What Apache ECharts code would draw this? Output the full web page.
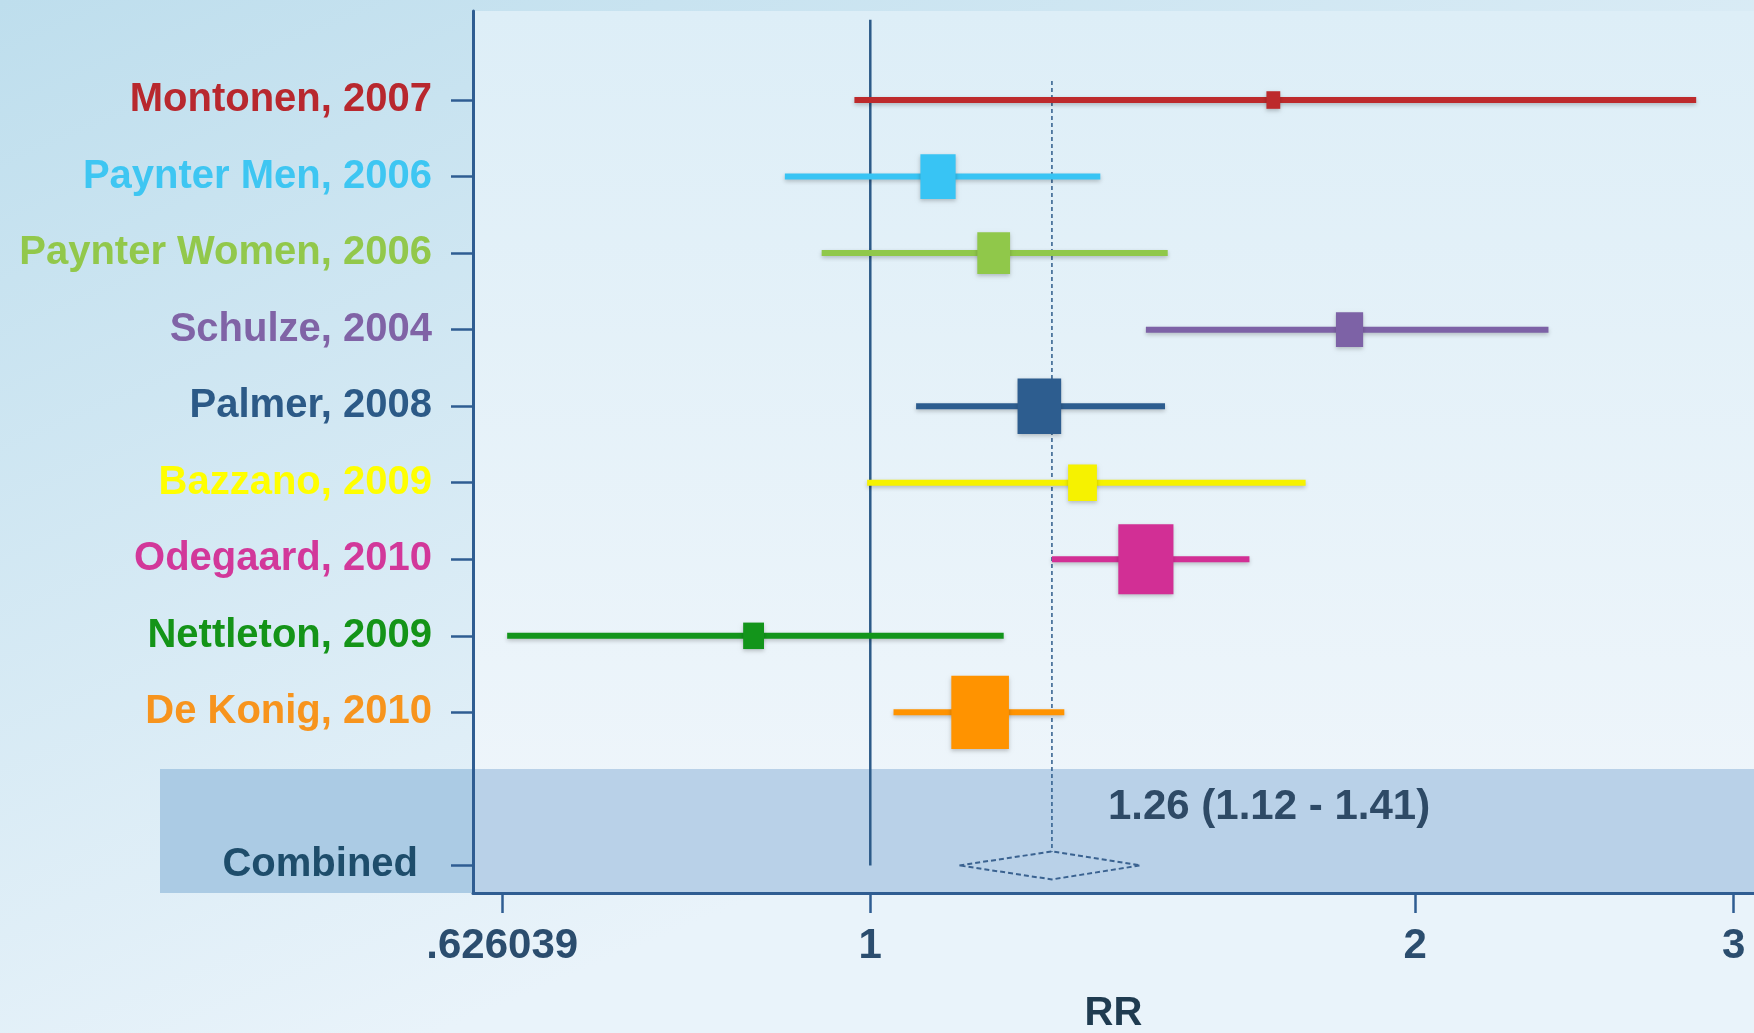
<!DOCTYPE html>
<html>
<head>
<meta charset="utf-8">
<title>Forest plot – RR</title>
<script src="https://cdn.jsdelivr.net/npm/echarts@6/dist/echarts.min.js"></script>
<style>
  html, body { margin: 0; padding: 0; }
  #chart { width: 1754px; height: 1033px; }
</style>
</head>
<body>
<div id="chart"></div>
<script>
// ---- study data (relative risks with 95% CI, pooled weights in %) ----
const studies = [
  'Montonen, 2007', 'Paynter Men, 2006', 'Paynter Women, 2006', 'Schulze, 2004',
  'Palmer, 2008', 'Bazzano, 2009', 'Odegaard, 2010', 'Nettleton, 2009', 'De Konig, 2010'
];
const rrEstimate = [1.67, 1.09, 1.17, 1.84, 1.24, 1.31, 1.42, 0.862, 1.15];
const rrLower    = [0.98, 0.897, 0.94, 1.42, 1.06, 0.996, 1.26, 0.63, 1.03];
const rrUpper    = [2.86, 1.34, 1.46, 2.37, 1.455, 1.74, 1.62, 1.185, 1.28];
const weights    = [1.5, 9.7, 8.4, 5.8, 14.9, 6.5, 23.8, 3.4, 26.0];

const combinedName = 'Combined';
const combinedEstimate = 1.26;
const combinedLower = 1.12;
const combinedUpper = 1.41;

const xTickValues = [0.626039, 1, 2, 3];
const xTickLabels = ['.626039', '1', '2', '3'];
const axisTitle = 'RR';

// ---- styling ----
const studyColors = ['#bd2a2c', '#38c4f4', '#90c84a', '#7d62a6', '#2d5d8f',
                     '#f6f200', '#d22f95', '#13951b', '#ff9300'];
const labelColors = ['#b8282e', '#3ec6f2', '#92c84b', '#8063a6', '#2c5a87',
                     '#ffff00', '#d2389a', '#149418', '#f7941d'];
const combinedColor = '#1e4d6b';
const axisColor = '#2f5d92';
const FONT = '"Liberation Sans", Arial, sans-serif';

// row layout: one row per study, a blank row, then the pooled estimate
const studyRows = studies.map((_, i) => i + 1);
const combinedRow = studies.length + 2;
const allRows = studyRows.concat([combinedRow]);
const allLabels = studies.concat([combinedName]);
const allLabelColors = labelColors.concat([combinedColor]);

// the RR axis is logarithmic: values are placed on a natural-log value axis
const ln = Math.log;

const rich = {};
allLabels.forEach((_, i) => {
  rich['r' + i] = {
    color: allLabelColors[i], fontSize: 40, fontWeight: 'bold', fontFamily: FONT,
    padding: i === allLabels.length - 1 ? [0, 14, 0, 0] : 0
  };
});

const studyData = studies.map((s, i) =>
  [ln(rrLower[i]), ln(rrUpper[i]), ln(rrEstimate[i]), studyRows[i], weights[i]]);

const shadow = { shadowColor: 'rgba(0,0,0,0.22)', shadowBlur: 4, shadowOffsetY: 2 };

const chart = echarts.init(document.getElementById('chart'));
chart.setOption({
  animation: false,
  backgroundColor: new echarts.graphic.LinearGradient(0, 0, 0.25, 1, [
    { offset: 0, color: '#bedeed' },
    { offset: 1, color: '#e9f3fa' }
  ]),
  grid: {
    left: 473, right: 0, top: 11, bottom: 140,
    outerBoundsMode: 'none', containLabel: false,
    show: true, borderWidth: 0,
    backgroundColor: new echarts.graphic.LinearGradient(0, 0, 0, 1, [
      { offset: 0, color: '#ddeef7' },
      { offset: 1, color: '#f0f6fb' }
    ])
  },
  graphic: [
    { type: 'rect', z: 1, shape: { x: 160, y: 769, width: 313, height: 124 },
      style: { fill: '#abcbe4' } },
    { type: 'rect', z: 1, shape: { x: 473, y: 769, width: 1281, height: 124 },
      style: { fill: '#b9d1e8' } }
  ],
  xAxis: {
    type: 'value', z: 5,
    min: -0.5055, max: 1.1244,
    splitLine: { show: false },
    axisLine: { show: true, onZero: false, lineStyle: { color: axisColor, width: 3 } },
    axisTick: { show: true, length: 20, customValues: xTickValues.map(ln),
                lineStyle: { color: axisColor, width: 2.5 } },
    axisLabel: {
      customValues: xTickValues.map(ln),
      margin: 32,
      formatter: v => {
        let best = 0;
        xTickValues.forEach((t, i) => {
          if (Math.abs(ln(t) - v) < Math.abs(ln(xTickValues[best]) - v)) best = i;
        });
        return xTickLabels[best];
      },
      color: '#2b4d6e', fontSize: 42, fontWeight: 'bold', fontFamily: FONT
    },
    name: axisTitle, nameLocation: 'middle', nameGap: 101,
    nameTextStyle: { color: '#1f3b50', fontSize: 40, fontWeight: 'bold', fontFamily: FONT }
  },
  yAxis: {
    type: 'value', z: 5, inverse: true,
    min: -0.163, max: 11.36,
    splitLine: { show: false },
    axisLine: { show: true, onZero: false, lineStyle: { color: axisColor, width: 3 } },
    axisTick: { show: true, length: 22, customValues: allRows,
                lineStyle: { color: axisColor, width: 2.5 } },
    axisLabel: {
      customValues: allRows,
      margin: 41,
      formatter: v => {
        const i = allRows.indexOf(v);
        return i < 0 ? '' : '{r' + i + '|' + allLabels[i] + '}';
      },
      rich: rich
    }
  },
  series: [
    {
      // no-effect reference line at RR = 1
      type: 'line', z: 2, silent: true, symbol: 'none',
      data: [[ln(1), -0.05], [ln(1), combinedRow]],
      lineStyle: { color: '#2c5a88', width: 2.5 }
    },
    {
      // pooled-estimate reference line
      type: 'line', z: 2, silent: true, symbol: 'none',
      data: [[ln(combinedEstimate), 0.75], [ln(combinedEstimate), combinedRow - 0.18]],
      lineStyle: { color: '#2d5b8a', width: 1.5, type: [4, 3] }
    },
    {
      // individual studies: CI bar plus weight-sized box
      type: 'custom', z: 3, silent: true,
      encode: { x: [0, 1, 2], y: 3 },
      data: studyData,
      renderItem: (params, api) => {
        const row = api.value(3);
        const lo = api.coord([api.value(0), row]);
        const hi = api.coord([api.value(1), row]);
        const c = api.coord([api.value(2), row]);
        const w = 11.3 * Math.sqrt(api.value(4));
        const h = w * 1.27;
        const color = studyColors[params.dataIndex];
        return {
          type: 'group',
          children: [
            { type: 'line', shape: { x1: lo[0], y1: lo[1], x2: hi[0], y2: hi[1] },
              style: Object.assign({ stroke: color, lineWidth: 6 }, shadow) },
            { type: 'rect', shape: { x: c[0] - w / 2, y: c[1] - h / 2, width: w, height: h },
              style: Object.assign({ fill: color }, shadow) }
          ]
        };
      }
    },
    {
      // pooled estimate: dashed diamond with its value label
      type: 'custom', z: 3, silent: true,
      encode: { x: [0, 1, 2], y: 3 },
      data: [[ln(combinedLower), ln(combinedUpper), ln(combinedEstimate), combinedRow]],
      renderItem: (params, api) => {
        const row = api.value(3);
        const lo = api.coord([api.value(0), row]);
        const hi = api.coord([api.value(1), row]);
        const c = api.coord([api.value(2), row]);
        const dh = 14;
        const text = combinedEstimate.toFixed(2) + ' (' + combinedLower.toFixed(2) +
                     ' - ' + combinedUpper.toFixed(2) + ')';
        return {
          type: 'group',
          children: [
            { type: 'polygon',
              shape: { points: [[lo[0], lo[1]], [c[0], c[1] - dh], [hi[0], hi[1]], [c[0], c[1] + dh]] },
              style: { fill: 'none', stroke: '#3a6290', lineWidth: 2, lineDash: [5, 3] } },
            { type: 'text', x: c[0] + 56, y: c[1] - 58,
              style: { text: text, fill: '#2e4a66', font: 'bold 42px ' + FONT,
                       align: 'left', verticalAlign: 'middle' } }
          ]
        };
      }
    }
  ]
});
</script>
</body>
</html>
